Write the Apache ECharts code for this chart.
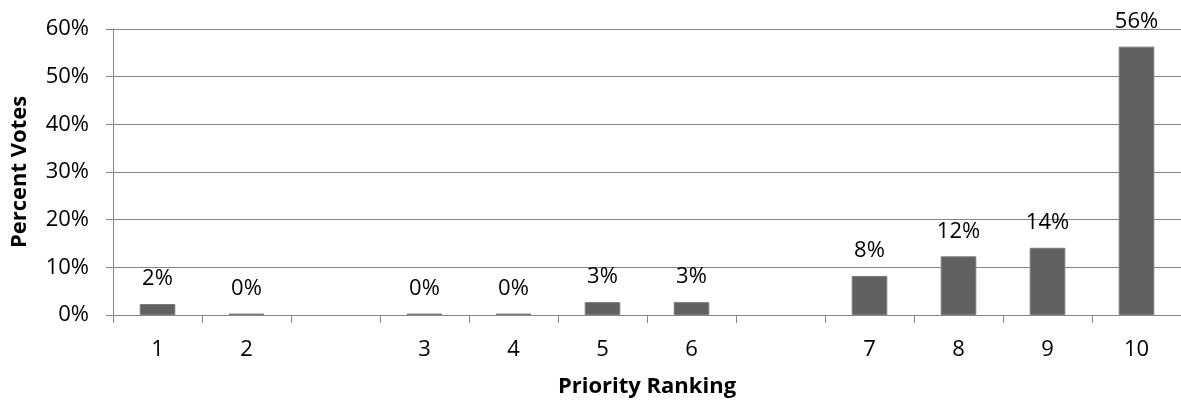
<!DOCTYPE html>
<html>
<head>
<meta charset="utf-8">
<script src="https://cdn.jsdelivr.net/npm/echarts@6/dist/echarts.min.js"></script>
<style>
  html, body { margin: 0; padding: 0; background: #fff; }
  #chart { width: 1181px; height: 405px; }
</style>
</head>
<body>
<div id="chart"></div>
<script>
// two empty slots in the category axis, as in the original sheet
const categories = ['1', '2', '', '3', '4', '5', '6', '', '7', '8', '9', '10']
const votes = [2.3, 0.3, null, 0.3, 0.3, 2.7, 2.7, null, 8.2, 12.3, 14.1, 56.3]
const yTicks = [0, 10, 20, 30, 40, 50, 60]

const font = '"Open Sans", sans-serif'
const grey = '#868686'

const chart = echarts.init(document.getElementById('chart'))
chart.setOption({
	animation: false,
	grid: { left: 113, right: -6, top: 29, bottom: 90 },
	xAxis: {
		type: 'category',
		data: categories,
		name: 'Priority Ranking',
		nameLocation: 'middle',
		nameGap: 61,
		nameTextStyle: { fontFamily: font, fontSize: 22, fontWeight: 'bold', color: '#000' },
		axisLine: { lineStyle: { color: grey } },
		axisTick: { show: true, length: 8, lineStyle: { color: grey } },
		axisLabel: { fontFamily: font, fontSize: 22, color: '#000', margin: 24 },
	},
	yAxis: {
		type: 'value',
		min: yTicks[0],
		max: yTicks[yTicks.length - 1],
		interval: 10,
		name: 'Percent Votes',
		nameLocation: 'middle',
		nameRotate: 90,
		nameGap: 82,
		nameTextStyle: { fontFamily: font, fontSize: 22, fontWeight: 'bold', color: '#000' },
		axisLine: { show: true, lineStyle: { color: grey } },
		axisTick: { show: true, length: 7, lineStyle: { color: grey } },
		axisLabel: { fontFamily: font, fontSize: 22, color: '#000', margin: 24, formatter: '{value}%' },
		splitLine: { lineStyle: { color: grey } },
	},
	series: [{
		type: 'bar',
		data: votes,
		barWidth: '40%',
		itemStyle: { color: '#616161', borderColor: '#7a7a7a', borderWidth: 1 },
		label: {
			show: true,
			position: 'top',
			distance: 14,
			fontFamily: font,
			fontSize: 22,
			color: '#000',
			formatter: p => p.value == null ? '' : Math.round(p.value) + '%',
		},
	}],
})
</script>
</body>
</html>
